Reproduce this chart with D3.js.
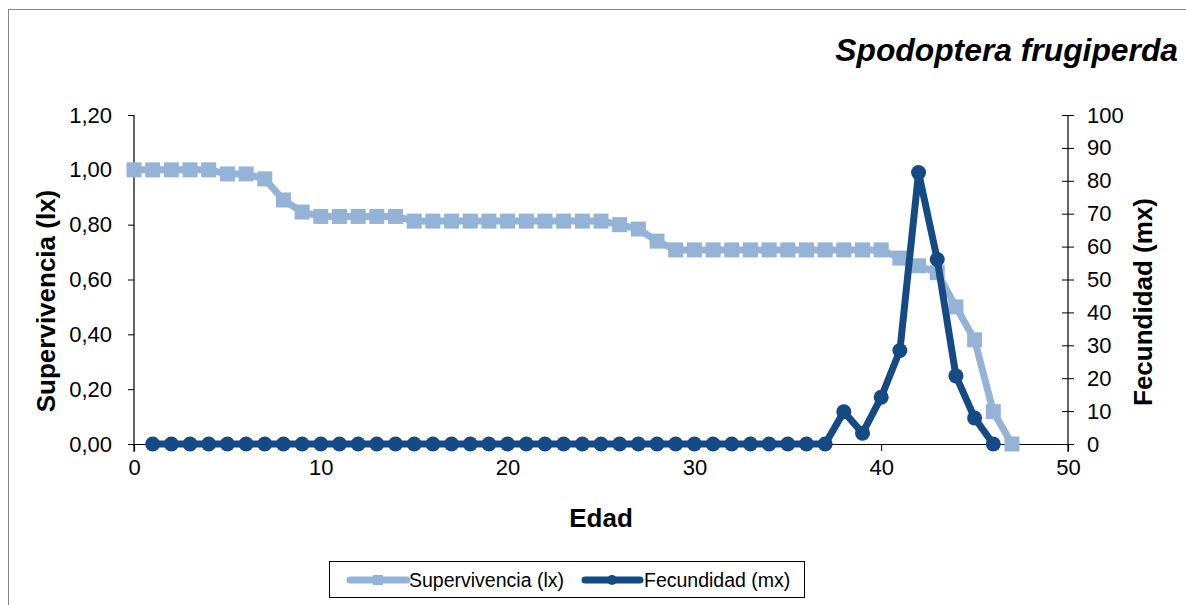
<!DOCTYPE html>
<html><head><meta charset="utf-8">
<script src="https://cdn.jsdelivr.net/npm/d3@7"></script>
<style>body{margin:0;background:#fff}svg{display:block;font-family:"Liberation Sans",Arial,sans-serif}</style>
</head><body><svg id="c" width="1186" height="605"></svg>
<script>
const edad = d3.range(0, 48);
const lx = [1.00,1.00,1.00,1.00,1.00,0.985,0.985,0.967,0.89,0.846,0.83,0.83,0.83,0.83,0.83,0.813,0.813,0.813,0.813,0.813,0.813,0.813,0.813,0.813,0.813,0.813,0.80,0.784,0.74,0.708,0.708,0.708,0.708,0.708,0.708,0.708,0.708,0.708,0.708,0.708,0.708,0.678,0.65,0.625,0.50,0.38,0.118,0.0];
const edadMx = d3.range(1, 47);
const mx = [0,0,0,0,0,0,0,0,0,0,0,0,0,0,0,0,0,0,0,0,0,0,0,0,0,0,0,0,0,0,0,0,0,0,0,0,0,9.8,3.3,14.2,28.4,82.5,56.1,20.7,7.9,0];
const leftTicks = [0,0.2,0.4,0.6,0.8,1.0,1.2];
const rightTicks = d3.range(0,101,10);
const xTicks = [0,10,20,30,40,50];

const svg = d3.select("#c");
const colL="#95B3D7", colD="#154A84";
svg.append("rect").attr("x",8.5).attr("y",9.5).attr("width",1200).attr("height",700).attr("fill","#fff").attr("stroke","#868686").attr("stroke-width",1);

const x = d3.scaleLinear().domain([0,50]).range([134,1068]);
const yL = d3.scaleLinear().domain([0,1.2]).range([444,115]);
const yR = d3.scaleLinear().domain([0,100]).range([444,115]);

const fmt = d => d3.format(".2f")(d).replace(".",",");

const gx = svg.append("g").attr("transform","translate(0,444)")
  .call(d3.axisBottom(x).tickValues(xTicks).tickSize(7).tickPadding(8));
const gl = svg.append("g").attr("transform","translate(134,0)")
  .call(d3.axisLeft(yL).tickValues(leftTicks).tickFormat(fmt).tickSize(6).tickPadding(16));
const gr = svg.append("g").attr("transform","translate(1068,0)")
  .call(d3.axisRight(yR).tickValues(rightTicks).tickSize(6).tickPadding(13));
gr.selectAll(".tick line").attr("x1",-6);
[gx,gl,gr].forEach(g=>{
  g.select(".domain").attr("stroke","#000").attr("stroke-width",1.2);
  g.selectAll(".tick line").attr("stroke","#000");
  g.selectAll("text").attr("font-size",22).attr("fill","#000").attr("font-family","Liberation Sans, Arial, sans-serif");
});
gl.select(".domain").attr("d","M-6,115.5H0V452");
gr.select(".domain").attr("d","M0,115V452");

const lineL = d3.line().x((d,i)=>x(edad[i])).y(d=>yL(d));
svg.append("path").datum(lx).attr("d",lineL).attr("fill","none").attr("stroke",colL).attr("stroke-width",7).attr("stroke-linejoin","round");
const sq=15;
svg.append("g").selectAll("rect").data(lx).join("rect")
  .attr("x",(d,i)=>x(edad[i])-sq/2).attr("y",d=>yL(d)-sq/2).attr("width",sq).attr("height",sq).attr("fill",colL);

const lineD = d3.line().x((d,i)=>x(edadMx[i])).y(d=>yR(d));
svg.append("path").datum(mx).attr("d",lineD).attr("fill","none").attr("stroke",colD).attr("stroke-width",7).attr("stroke-linejoin","round");
svg.append("g").selectAll("circle").data(mx).join("circle")
  .attr("cx",(d,i)=>x(edadMx[i])).attr("cy",d=>yR(d)).attr("r",7.5).attr("fill",colD);

svg.append("text").attr("x",1178).attr("y",61).attr("text-anchor","end").attr("font-size",31.8).attr("font-weight","bold").attr("font-style","italic").text("Spodoptera frugiperda");
svg.append("text").attr("x",601).attr("y",527).attr("text-anchor","middle").attr("font-size",26).attr("font-weight","bold").text("Edad");
svg.append("text").attr("transform","translate(55,301) rotate(-90)").attr("text-anchor","middle").attr("font-size",26).attr("font-weight","bold").text("Supervivencia (lx)");
svg.append("text").attr("transform","translate(1152,302) rotate(-90)").attr("text-anchor","middle").attr("font-size",26).attr("font-weight","bold").text("Fecundidad (mx)");

const lg = svg.append("g");
lg.append("rect").attr("x",329.5).attr("y",561.5).attr("width",475).attr("height",36).attr("fill","#fff").attr("stroke","#000").attr("stroke-width",1);
lg.append("line").attr("x1",350).attr("x2",407).attr("y1",580).attr("y2",580).attr("stroke",colL).attr("stroke-width",7).attr("stroke-linecap","round");
lg.append("rect").attr("x",373).attr("y",575).attr("width",10).attr("height",10).attr("fill",colL);
lg.append("text").attr("x",409).attr("y",587).attr("font-size",19.5).text("Supervivencia (lx)");
lg.append("line").attr("x1",585).attr("x2",640).attr("y1",580).attr("y2",580).attr("stroke",colD).attr("stroke-width",7).attr("stroke-linecap","round");
lg.append("circle").attr("cx",612).attr("cy",580).attr("r",5).attr("fill",colD);
lg.append("text").attr("x",644).attr("y",587).attr("font-size",19.5).text("Fecundidad (mx)");
</script></body></html>
